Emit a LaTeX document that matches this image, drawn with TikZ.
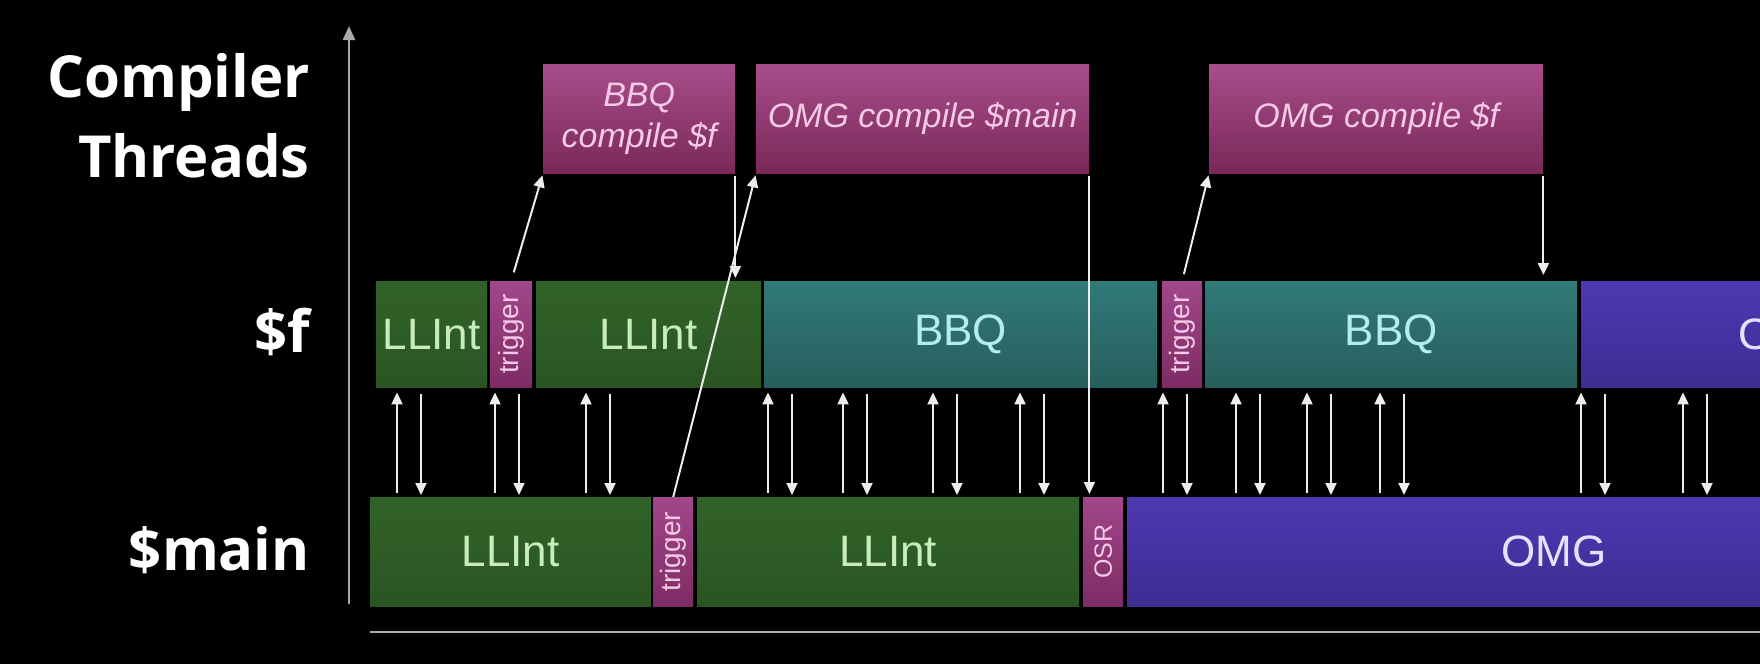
\documentclass[tikz,border=0pt]{standalone}
\usepackage{fontspec}
\setmainfont{Liberation Sans}
\newfontfamily\labelfont{Open Sans}
\usetikzlibrary{arrows.meta}

\begin{document}
\begin{tikzpicture}[x=1pt, y=-1pt,
    blk/.style={anchor=north west, inner sep=0pt, font=\fontsize{44}{48}\selectfont},
    wd/.style={minimum width=#1},
    frow/.style={minimum height=106},
    mrow/.style={minimum height=109},
    lli/.style={blk, top color=llTop, bottom color=llBot, text=llText},
    bbq/.style={blk, top color=bbqTop, bottom color=bbqBot, text=bbqText},
    omg/.style={blk, top color=omgTop, bottom color=omgBot, text=omgText},
    trg/.style={blk, top color=trgTop, bottom color=trgBot, text=trgText, font=\fontsize{28}{30}\selectfont},
    job/.style={blk, minimum height=109, top color=jobTop, bottom color=jobBot, text=trgText,
      align=center, font=\fontsize{34}{41}\selectfont\itshape},
    lab/.style={inner sep=0pt, text=white, font=\labelfont\bfseries\fontsize{58}{80}\selectfont},
    flow/.style={draw=flowWhite, line width=2pt, -{Triangle[width=11pt,length=12pt]}},
    axis/.style={draw=axisGray, line width=2.5pt}]
    \definecolor{llTop}{HTML}{316329}
    \definecolor{llBot}{HTML}{2A5522}
    \definecolor{llText}{HTML}{C9EDBA}
    \definecolor{bbqTop}{HTML}{307A78}
    \definecolor{bbqBot}{HTML}{275E5D}
    \definecolor{bbqText}{HTML}{B5EDEE}
    \definecolor{omgTop}{HTML}{4E38B2}
    \definecolor{omgBot}{HTML}{3E2C92}
    \definecolor{omgText}{HTML}{E6E0FF}
    \definecolor{trgTop}{HTML}{A2478A}
    \definecolor{trgBot}{HTML}{7E2B64}
    \definecolor{jobTop}{HTML}{A84D8B}
    \definecolor{jobBot}{HTML}{7A2858}
    \definecolor{trgText}{HTML}{F3C9E6}
    \definecolor{axisGray}{HTML}{A8A8A8}
    \definecolor{flowWhite}{HTML}{EDEDED}
    \fill[black] (0,0) rectangle (1760,664);
    \clip (0,0) rectangle (1760,664);

    \node[lab, anchor=north east, align=right] (threads) at (310,53) {Compiler\\Threads};
    \node[lab, anchor=base east] (flab) at (310,352) {\$f};
    \node[lab, anchor=base east] (mlab) at (310,570) {\$main};

    \coordinate (orig) at (349,604);
    \coordinate (ytop) at (349,26);
    \coordinate (xl) at (370,632);
    \coordinate (xr) at (1760,632);
    \draw[axis, -{Triangle[width=12pt,length=14pt]}] (orig) -- (ytop);
    \draw[axis] (xl) -- (xr);

    \node[job, wd=192] (BBQc) at (543,64) {BBQ\\compile \$f};
    \node[job, wd=333] (OMGmc) at (756,64) {\raisebox{-4pt}{OMG compile \$main}};
    \node[job, wd=334] (OMGfc) at (1209,64) {\raisebox{-2pt}{OMG compile \$f}};

    \node[lli, frow, wd=111] (fLL1) at (376,281) {LLInt};
    \node[trg, frow, wd=42] (ftrig1) at (490,281) {\rotatebox{90}{trigger}};
    \node[lli, frow, wd=225] (fLL2) at (536,281) {LLInt};
    \node[bbq, frow, wd=393] (fBBQ1) at (764,281) {BBQ};
    \node[trg, frow, wd=40] (ftrig2) at (1162,281) {\rotatebox{90}{trigger}};
    \node[bbq, frow, wd=372] (fBBQ2) at (1205,281) {BBQ};
    \node[omg, frow, wd=420] (fOMG) at (1581,281) {OMG};

    \node[lli, mrow, wd=281] (mLL1) at (370,497) {LLInt};
    \node[trg, mrow, wd=40] (mtrig) at (653,497) {\rotatebox{90}{trigger}};
    \node[lli, mrow, wd=382] (mLL2) at (697,497) {LLInt};
    \node[trg, mrow, wd=40, font=\fontsize{25}{27}\selectfont] (mOSR) at (1083,497) {\rotatebox{90}{OSR}};
    \node[omg, mrow, wd=854] (mOMG) at (1127,497) {OMG};

    \draw[flow, shorten <=9pt, shorten >=2pt] (ftrig1.north) -- (BBQc.south west);
    \draw[flow, shorten <=3pt, shorten >=3pt] (BBQc.south east) -- (BBQc.south east |- fLL2.north);
    \draw[flow, shorten >=2pt] (mtrig.north) -- (OMGmc.south west);
    \draw[flow, shorten <=3pt, shorten >=3pt] (OMGmc.south east) -- (OMGmc.south east |- mOSR.north);
    \draw[flow, shorten <=7pt, shorten >=2pt] (ftrig2.north) -- (OMGfc.south west);
    \draw[flow, shorten <=3pt, shorten >=6pt] (OMGfc.south east) -- (OMGfc.south east |- fBBQ2.north);

    \foreach \x in {397,495,586,768,843,933,1020,1163,1236,1307,1380,1581,1683} {
      \draw[flow, shorten <=4pt, shorten >=5pt] (\x,0 |- mLL1.north) -- (\x,0 |- fLL1.south);
      \draw[flow, shorten <=7pt, shorten >=2pt] (\x+24,0 |- fLL1.south) -- (\x+24,0 |- mLL1.north);
    }
  \end{tikzpicture}
\end{document}
